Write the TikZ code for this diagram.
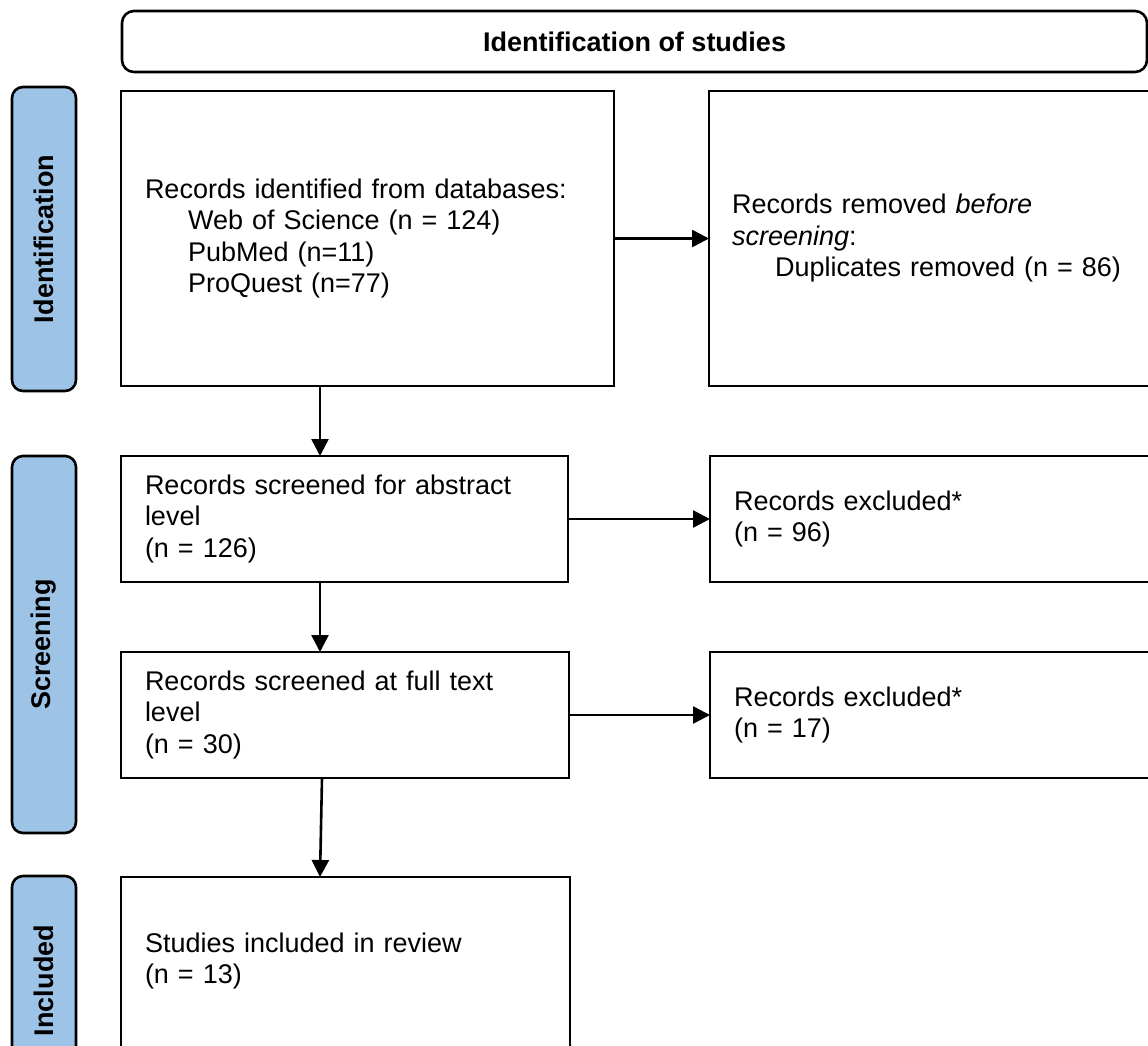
\documentclass[tikz,border=0pt]{standalone}
\usepackage{fontspec}
\setmainfont{Liberation Sans}
\usetikzlibrary{arrows.meta,positioning}
\definecolor{stageblue}{RGB}{157,195,230}

\begin{document}
\begin{tikzpicture}[
    x=1pt, y=-1pt,
    box/.style={rectangle, draw=black, line width=2.6pt, outer sep=0pt, fill=white, align=left, inner xsep=24pt, inner ysep=0pt, font=\fontsize{27pt}{31.5pt}\selectfont},
    stage/.style={rectangle, rounded corners=11pt, draw=black, line width=2.6pt, fill=stageblue, rotate=90, minimum height=64pt, font=\bfseries\fontsize{27pt}{31.5pt}\selectfont},
    arrow/.style={-{Triangle[length=17pt,width=17pt]}, line width=2.6pt}
]
\path[use as bounding box, clip] (0,0) rectangle (1148,1046);
\fill[white] (0,0) rectangle (1148,1046);

% header and stage bars
\node[rectangle, rounded corners=12pt, draw=black, line width=2.6pt, minimum width=1025pt, minimum height=61pt, font=\bfseries\fontsize{27pt}{31.5pt}\selectfont] (head) at (634.5,41.5) {Identification of studies};
\node[stage, minimum width=304pt] (stid) at (44,239) {Identification};
\node[stage, minimum width=377pt] (stscr) at (44,644.5) {Screening};
\node[stage, minimum width=209pt] (stinc) at (44,980.5) {Included};

% left column
\node[box, text width=445pt, minimum height=295pt] (recid) at (367.5,238.5) {Records identified from databases:\\
    \hspace*{43pt}Web of Science (n = 124)\\
    \hspace*{43pt}PubMed (n=11)\\
    \hspace*{43pt}ProQuest (n=77)};
\node[box, text width=399pt, minimum height=126pt, below=70pt of recid.south west, anchor=north west] (scrabs) {Records screened for abstract\\level\\(n = 126)};
\node[box, text width=400pt, minimum height=126pt, below=70pt of scrabs.south west, anchor=north west] (scrfull) {Records screened at full text\\level\\(n = 30)};
\node[box, text width=401pt, minimum height=175pt, text depth=44pt, below=99pt of scrfull.south west, anchor=north west] (incl) {Studies included in review\\(n = 13)};

% right column
\node[box, text width=403pt, minimum height=295pt, inner xsep=23pt, right=95pt of recid] (removed) {Records removed \textit{before}\\
    \textit{screening}:\\
    \hspace*{43pt}Duplicates removed (n = 86)};
\node[box, text width=403pt, minimum height=126pt, right=142pt of scrabs] (exclabs) {Records excluded*\\(n = 96)};
\node[box, text width=403pt, minimum height=126pt, right=141pt of scrfull] (exclfull) {Records excluded*\\(n = 17)};

\draw[arrow] (recid.east) -- (removed.west);
\draw[arrow] (scrabs.east) -- (exclabs.west);
\draw[arrow] (scrfull.east) -- (exclfull.west);
\draw[arrow] ([xshift=199pt]recid.south west) -- ([xshift=199pt]scrabs.north west);
\draw[arrow] ([xshift=199pt]scrabs.south west) -- ([xshift=199pt]scrfull.north west);
\draw[arrow] ([xshift=201pt]scrfull.south west) -- ([xshift=199pt]incl.north west);
\end{tikzpicture}
\end{document}
